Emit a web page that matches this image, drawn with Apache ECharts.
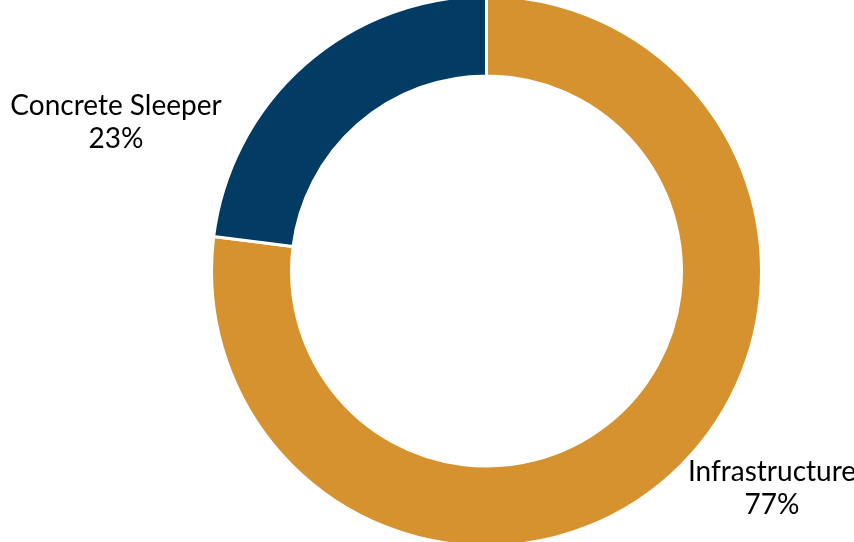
<!DOCTYPE html>
<html>
<head>
<meta charset="utf-8">
<script src="https://cdn.jsdelivr.net/npm/echarts@6/dist/echarts.min.js"></script>
<style>
  html, body { margin: 0; padding: 0; background: #fff; }
  #chart { width: 854px; height: 542px; }
</style>
</head>
<body>
<div id="chart"></div>
<script>
// segment names and shares (%)
const categories = ['Infrastructure', 'Concrete Sleeper'];
const shares = [77, 23];
const colors = ['#D6922E', '#023B63'];

// where each label block sits
const labelSpots = [[772, 488], [116, 122]];

const chart = echarts.init(document.getElementById('chart'), null, { renderer: 'canvas' });

chart.setOption({
  backgroundColor: '#FFFFFF',
  animation: false,
  series: [{
    type: 'pie',
    center: [486.5, 271],
    radius: [195, 275],
    startAngle: 90,
    clockwise: true,
    data: categories.map((c, i) => ({
      name: c,
      value: shares[i],
      itemStyle: { color: colors[i] }
    })),
    itemStyle: { borderColor: '#FFFFFF', borderWidth: 3 },
    label: {
      show: true,
      formatter: '{b}\n{d}%',
      fontFamily: 'Lato',
      fontSize: 28,
      lineHeight: 33,
      color: '#000000',
      align: 'center',
      verticalAlign: 'middle',
      overflow: 'none',
      width: 260
    },
    labelLine: { show: false },
    labelLayout: function (p) {
      const s = labelSpots[p.dataIndex];
      return { x: s[0], y: s[1], align: 'center', verticalAlign: 'middle' };
    },
    emphasis: { disabled: true }
  }]
});
</script>
</body>
</html>
